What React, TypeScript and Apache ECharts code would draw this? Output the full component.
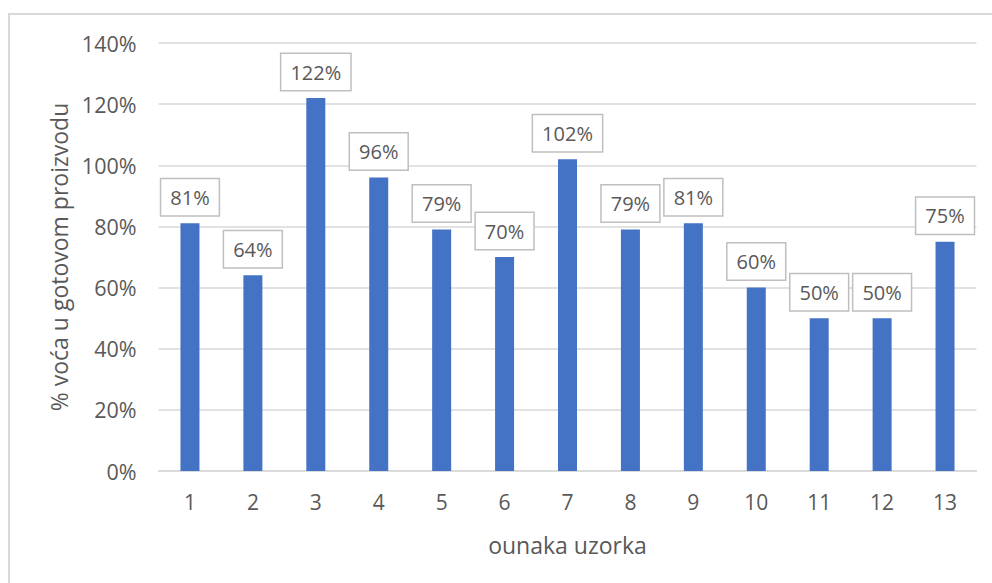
import React, { useEffect, useRef } from "react";
import * as echarts from "echarts";

const categories = ["1", "2", "3", "4", "5", "6", "7", "8", "9", "10", "11", "12", "13"];
const values = [81, 64, 122, 96, 79, 70, 102, 79, 81, 60, 50, 50, 75];
const yAxisTitle = "% voća u gotovom proizvodu";
const xAxisTitle = "ounaka uzorka";

const FONT = "'Open Sans', 'Noto Sans', sans-serif";
const TEXT = "#595959";

export default function App() {
  const ref = useRef<HTMLDivElement>(null);
  useEffect(() => {
    if (!ref.current) return;
    const chart = echarts.init(ref.current, null, { renderer: "svg" });
    chart.setOption({
      animation: false,
      backgroundColor: "#ffffff",
      textStyle: { fontFamily: FONT },
      graphic: [
        {
          type: "rect",
          shape: { x: 9, y: 14, width: 1000, height: 600 },
          style: { fill: "none", stroke: "#d9d9d9", lineWidth: 2 },
          silent: true,
        },
      ],
      grid: { left: 158.5, right: 15.5, top: 43, bottom: 112 },
      xAxis: {
        type: "category",
        data: categories,
        name: xAxisTitle,
        nameLocation: "middle",
        nameGap: 62,
        nameTextStyle: { color: TEXT, fontSize: 23, fontFamily: FONT },
        axisLine: { lineStyle: { color: "#d9d9d9", width: 1.5 } },
        axisTick: { show: false },
        axisLabel: { color: TEXT, fontSize: 21, fontFamily: FONT, margin: 20 },
      },
      yAxis: {
        type: "value",
        min: 0,
        max: 140,
        interval: 20,
        name: yAxisTitle,
        nameLocation: "middle",
        nameGap: 82,
        nameRotate: 90,
        nameTextStyle: { color: TEXT, fontSize: 23, fontFamily: FONT },
        axisLine: { show: false },
        axisTick: { show: false },
        splitLine: { lineStyle: { color: "#d9d9d9", width: 1.5 } },
        axisLabel: {
          color: TEXT,
          fontSize: 21.5,
          fontFamily: FONT,
          margin: 22,
          formatter: "{value}%",
        },
      },
      series: [
        {
          type: "bar",
          data: values,
          barWidth: 19,
          itemStyle: { color: "#4472c4" },
          label: {
            show: true,
            position: "top",
            distance: 8,
            formatter: "{c}%",
            color: TEXT,
            fontSize: 20,
            fontFamily: FONT,
            lineHeight: 20,
            backgroundColor: "#ffffff",
            borderColor: "#bfbfbf",
            borderWidth: 1.5,
            padding: [8, 9, 8, 9],
          },
        },
      ],
    });
    return () => chart.dispose();
  }, []);
  return (
    <div
      ref={ref}
      style={{ position: "fixed", left: 0, top: 0, width: 992, height: 583 }}
    />
  );
}
